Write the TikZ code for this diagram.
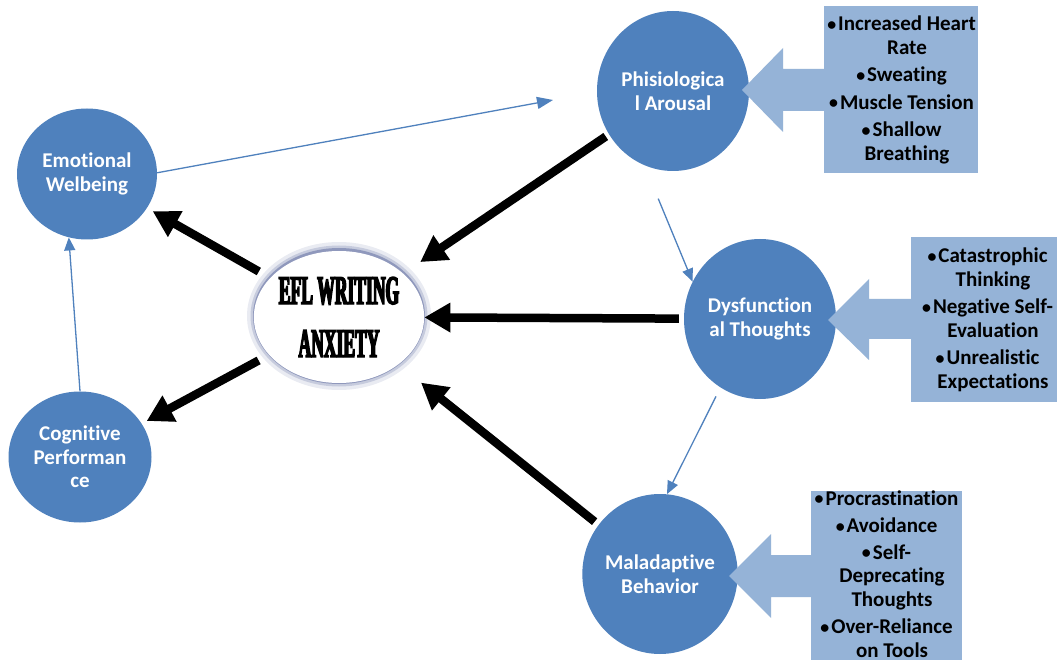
\documentclass[tikz,border=0pt]{standalone}
\usepackage{graphicx}
\usepackage{fontspec}
\setmainfont{Carlito}[Ligatures=NoCommon]
\newfontfamily\eflfont[FakeStretch=0.43,FakeBold=3.5]{Liberation Serif Bold}
\usetikzlibrary{arrows.meta,shapes.geometric}
\definecolor{cblue}{HTML}{4F81BD}
\definecolor{lblue}{HTML}{95B3D7}
\definecolor{gl}{RGB}{78,92,150}
\pgfdeclareradialshading{eflglow}{\pgfpoint{0bp}{0bp}}{color(0bp)=(white); color(40bp)=(white); color(45bp)=(gl!45!white); color(48.5bp)=(gl!90!white); color(50bp)=(gl)}
\tikzset{
  bubble/.style={ellipse, fill=cblue, inner sep=0pt, text=white, align=center,
    font=\bfseries\fontsize{21}{23.5}\selectfont},
  bigarrow/.style={line width=8.5pt, black, -{Triangle[length=26pt,width=28pt]}},
  thinarr/.style={line width=1.3pt, cblue, -{Triangle[length=13pt,width=11pt]}},
  listbox/.style={rectangle, fill=lblue, inner sep=0pt},
  listtext/.style={align=center, text=black, inner sep=0pt,
    font=\bfseries\fontsize{21}{23.5}\selectfont},
  blockarrow/.style={fill=lblue},
  efltext/.style={font=\eflfont\fontsize{40.8}{53}\selectfont, align=center}
}
\newcommand{\itm}{\llap{\raisebox{0.5pt}{\scalebox{0.85}{\textbullet}}\hspace{2pt}}}
\begin{document}
\begin{tikzpicture}[x=1pt,y=-1pt]
\useasboundingbox (0,0) rectangle (1058,660);
\fill[white] (0,0) rectangle (1058,660);

% EFL glow
\draw[gl, opacity=0.12, line width=16pt] (339,316) ellipse [x radius=84, y radius=66];
\draw[gl, opacity=0.22, line width=9pt] (339,316) ellipse [x radius=84, y radius=66];
\draw[gl, opacity=0.45, line width=4pt] (339,316) ellipse [x radius=84, y radius=66];
\node[ellipse, minimum width=168pt, minimum height=132pt, inner sep=0pt, shade, shading=eflglow, efltext] (efl) at (339,317) {EFL WRITING\\ANXIETY};

% circles
\node[bubble, minimum width=140pt, minimum height=131pt] (emo) at (87,174) {Emotional\\Welbeing};
\node[bubble, minimum width=143pt, minimum height=131pt] (cog) at (80,457) {Cognitive\\Performan\\ce};
\node[bubble, minimum width=152pt, minimum height=160pt] (phis) at (673,91) {Phisiologica\\l Arousal};
\node[bubble, minimum width=152pt, minimum height=160pt] (dysf) at (760,319) {Dysfunction\\al Thoughts};
\node[bubble, minimum width=151pt, minimum height=160pt] (malad) at (660,574) {Maladaptive\\Behavior};

% block arrows
\fill[blockarrow] (742,90) -- (783,48) -- (783,69) -- (824,69) -- (824,111) -- (783,111) -- (783,132) -- cycle;
\fill[blockarrow] (828,320) -- (869,279) -- (869,299) -- (911,299) -- (911,339) -- (869,339) -- (869,360) -- cycle;
\fill[blockarrow] (729,576) -- (771,534) -- (771,555) -- (811,555) -- (811,597) -- (771,597) -- (771,618) -- cycle;

% boxes
\node[listbox, minimum width=154pt, minimum height=167pt] (b1) at (901,89.5) {};
\node[listbox, minimum width=146pt, minimum height=165pt] (b2) at (984,319.5) {};
\node[listbox, minimum width=151pt, minimum height=170pt] (b3) at (886.5,575.5) {};

\node[listtext] (t1) at (907,90) {\itm Increased Heart\\Rate\\[4pt]\itm Sweating\\[4pt]\itm Muscle Tension\\[4pt]\itm Shallow\\Breathing};
\node[listtext] (t2) at (993,320) {\itm Catastrophic\\Thinking\\[4pt]\itm Negative Self-\\Evaluation\\[4pt]\itm Unrealistic\\Expectations};
\node[listtext] (t3) at (892,574) {\itm Procrastination\\[4pt]\itm Avoidance\\[3pt]\itm Self-\\Deprecating\\Thoughts\\[4pt]\itm Over-Reliance\\on Tools};

% thin arrows
\coordinate (p1) at (553,100);
\draw[thinarr, -{Triangle[length=16pt,width=12pt]}] (emo.1) -- (p1);
\draw[thinarr] (cog.north) -- (emo.254);
\draw[thinarr, shorten <=36pt] (phis.249) -- (dysf.151);
\draw[thinarr, shorten <=10pt] (dysf.240) -- (malad.85);

% thick arrows
\draw[bigarrow, shorten <=13pt, shorten >=6.5pt] (efl) -- (emo);
\draw[bigarrow, shorten <=11.8pt, shorten >=5.6pt] (efl) -- (cog);
\draw[bigarrow, shorten <=3.8pt, shorten >=20.4pt] (phis) -- (efl);
\draw[bigarrow, shorten <=5pt] (dysf) -- (efl);
\draw[bigarrow, shorten <=5pt, shorten >=29pt] (malad) -- (efl);
\end{tikzpicture}
\end{document}
